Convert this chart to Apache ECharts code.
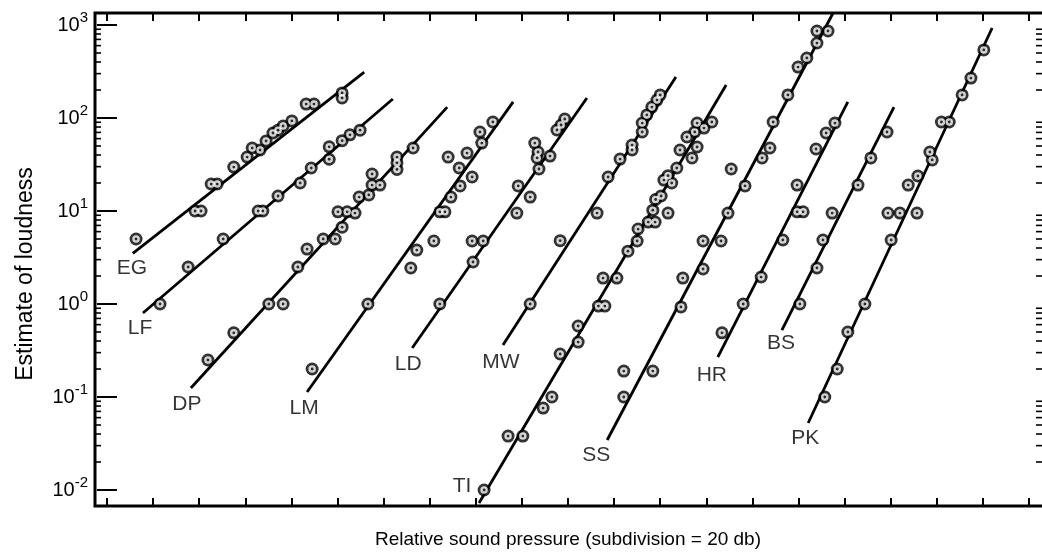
<!DOCTYPE html>
<html>
<head>
<meta charset="utf-8">
<title>Estimate of loudness</title>
<script src="https://cdn.jsdelivr.net/npm/echarts@6/dist/echarts.min.js"></script>
<style>
	html, body { margin: 0; padding: 0; background: #fff; }
	#chart { width: 1042px; height: 554px; }
</style>
</head>
<body>
<div id="chart"></div>
<script>
	// x: relative sound pressure in subdivisions (20 db each), y: estimate of loudness
	const EG_fit = [[0.56, 3.5], [5.58, 312]]
	const EG_pts = [[0.63, 5.0], [1.91, 10], [2.04, 10], [2.26, 19.5], [2.39, 19.5], [2.75, 29.7], [3.04, 38], [3.15, 47.6],
		[3.32, 45.3], [3.45, 56.6], [3.60, 69], [3.71, 74], [3.82, 82], [4.01, 93], [4.32, 141], [4.49, 141], [5.10, 186], [5.10, 164]]

	const LF_fit = [[0.78, 0.80], [6.20, 160]]
	const LF_pts = [[1.15, 1.0], [1.76, 2.5], [2.52, 5.0], [3.28, 10], [3.38, 10], [3.71, 14.5], [4.19, 20], [4.43, 29],
		[4.82, 36], [4.82, 49], [5.10, 57], [5.27, 66], [5.49, 74]]

	const DP_fit = [[1.82, 0.125], [7.38, 131]]
	const DP_pts = [[2.19, 0.25], [2.75, 0.49], [3.51, 1.0], [3.82, 1.0], [4.14, 2.5], [4.34, 3.9], [4.69, 5.0], [4.95, 5.0],
		[5.10, 6.7], [5.01, 9.8], [5.21, 9.8], [5.38, 9.5], [5.47, 14.1], [5.68, 14.9], [5.75, 19], [5.92, 19], [5.75, 25],
		[6.29, 38], [6.29, 33], [6.29, 28], [6.64, 47.6]]

	const LM_fit = [[4.34, 0.113], [8.81, 149]]
	const LM_pts = [[4.45, 0.2], [5.66, 1.0], [6.59, 2.44], [6.72, 3.8], [7.09, 4.76], [7.22, 9.8], [7.33, 9.8], [7.46, 14.1],
		[7.66, 18.6], [7.92, 23.2], [7.64, 29], [7.40, 38], [7.81, 42], [8.13, 53.8], [8.09, 70.7], [8.37, 90.6]]

	const LD_fit = [[6.62, 0.336], [10.41, 164]]
	const LD_pts = [[7.22, 1.0], [7.94, 2.83], [7.92, 4.76], [8.16, 4.76], [8.89, 9.5], [9.18, 14.1], [8.92, 18.6], [9.37, 28.3],
		[9.61, 39], [9.33, 37.2], [9.35, 43.1], [9.28, 53.8], [9.76, 74.3], [9.85, 84.1], [9.93, 97.5]]

	const MW_fit = [[8.59, 0.362], [12.34, 276]]
	const MW_pts = [[9.18, 1.0], [9.83, 4.8], [10.63, 9.5], [10.87, 23.2], [11.13, 36.2], [11.39, 51.2], [11.39, 45.3],
		[11.61, 70.7], [11.61, 88.3], [11.71, 108], [11.82, 131], [11.93, 156], [12.0, 177]]

	const TI_fit = [[8.07, 0.00725], [13.43, 226]]
	const TI_pts = [[8.18, 0.01], [8.70, 0.038], [9.02, 0.038], [9.46, 0.076], [9.65, 0.1], [9.83, 0.29], [10.22, 0.39],
		[10.22, 0.58], [10.66, 0.95], [10.80, 0.95], [10.76, 1.9], [11.06, 1.9], [11.30, 3.7], [11.50, 4.76], [11.52, 6.4],
		[11.74, 7.6], [11.89, 7.6], [11.84, 10.2], [12.17, 9.5], [11.90, 13.3], [12.02, 14.5], [12.08, 21.5], [12.25, 20],
		[12.17, 24], [12.36, 29], [12.43, 45.3], [12.69, 37.2], [12.58, 62.5], [12.80, 48.8], [12.75, 70.7], [12.80, 88.3],
		[13.12, 90.6], [12.95, 78]]

	const SS_fit = [[10.85, 0.0345], [15.75, 1346]]
	const SS_pts = [[11.21, 0.1], [11.21, 0.19], [11.84, 0.19], [12.45, 0.93], [12.49, 1.9], [12.93, 2.38], [12.93, 4.76],
		[13.32, 4.76], [13.47, 9.5], [13.54, 28.3], [13.84, 18.6], [14.21, 37.2], [14.38, 47.6], [14.45, 90.6], [14.77, 177],
		[14.99, 353], [15.18, 442], [15.40, 640], [15.40, 862], [15.64, 862]]

	const HR_fit = [[13.25, 0.269], [16.07, 149]]
	const HR_pts = [[13.34, 0.49], [13.80, 1.0], [14.19, 1.95], [14.66, 4.88], [14.97, 9.8], [15.10, 9.8], [14.97, 19],
		[15.38, 46.4], [15.60, 69], [15.79, 88.3]]

	const BS_fit = [[14.64, 0.525], [17.07, 131]]
	const BS_pts = [[15.03, 1.0], [15.40, 2.44], [15.53, 4.88], [15.73, 9.5], [16.29, 19], [16.57, 37.2], [16.92, 70.7]]

	const PK_fit = [[15.21, 0.0525], [19.20, 929]]
	const PK_pts = [[15.57, 0.1], [15.84, 0.2], [16.07, 0.5], [16.44, 1.0], [17.01, 4.88], [16.94, 9.5], [17.20, 9.5],
		[17.57, 9.5], [17.38, 19], [17.59, 23.8], [17.85, 43.1], [17.90, 35.4], [18.10, 90.6], [18.27, 90.6], [18.55, 177],
		[18.74, 269], [19.02, 539]]

	const subjects = ['EG', 'LF', 'DP', 'LM', 'LD', 'MW', 'TI', 'SS', 'HR', 'BS', 'PK']
	const fits = { EG: EG_fit, LF: LF_fit, DP: DP_fit, LM: LM_fit, LD: LD_fit, MW: MW_fit, TI: TI_fit, SS: SS_fit, HR: HR_fit, BS: BS_fit, PK: PK_fit }
	const points = { EG: EG_pts, LF: LF_pts, DP: DP_pts, LM: LM_pts, LD: LD_pts, MW: MW_pts, TI: TI_pts, SS: SS_pts, HR: HR_pts, BS: BS_pts, PK: PK_pts }

	// axis: 21 ticks along x, decades on y
	const xMin = 0
	const xMax = 20
	const yMin = 0.01
	const yMax = 1000
	const minorSteps = [2, 3, 4, 5, 6, 7, 8, 9]
	const decades = [0.01, 0.1, 1, 10, 100]

	// where each name sits relative to the low end of its line (px)
	const labelOffsets = {
		EG: [-1, 15], LF: [-3, 15], DP: [-4, 16], LM: [-3, 16], LD: [-4, 16], MW: [-2, 17],
		TI: [-17, -17], SS: [-11, 15], HR: [-6, 18], BS: [-1, 13], PK: [-3, 15]
	}

	const FONT = '"Liberation Sans", Arial, Helvetica, sans-serif'
	const LEFT_OFF = 12
	const RIGHT_OFF = 13

	const minorTicks = []
	decades.forEach(d => minorSteps.forEach(s => minorTicks.push([xMin, d * s])))

	const series = []
	subjects.forEach(name => {
		series.push({
			name: name,
			type: 'line',
			data: fits[name],
			symbol: 'none',
			clip: false,
			silent: true,
			lineStyle: { color: '#000', width: 2.8 },
			z: 2
		})
	})
	const allPts = subjects.reduce((acc, n) => acc.concat(points[n]), [])
	// ring = black disc, white disc on top, then centre dot
	series.push({ type: 'scatter', data: allPts, symbol: 'circle', symbolSize: 13, clip: false, silent: true, itemStyle: { color: '#000' }, z: 3 })
	series.push({ type: 'scatter', data: allPts, symbol: 'circle', symbolSize: 7.5, clip: false, silent: true, itemStyle: { color: '#fff' }, z: 4 })
	series.push({ type: 'scatter', data: allPts, symbol: 'circle', symbolSize: 2.8, clip: false, silent: true, itemStyle: { color: '#000' }, z: 5 })
	// subject names
	series.push({
		type: 'scatter',
		clip: false,
		silent: true,
		symbolSize: 1,
		itemStyle: { color: 'rgba(0,0,0,0)' },
		z: 6,
		data: subjects.map(n => ({
			name: n,
			value: fits[n][0],
			label: { offset: labelOffsets[n] }
		})),
		label: {
			show: true,
			position: 'inside',
			formatter: '{b}',
			color: '#000',
			fontSize: 21,
			fontFamily: FONT
		}
	})
	// minor log ticks on both y axes
	series.push({
		type: 'custom',
		clip: false,
		silent: true,
		data: minorTicks,
		z: 7,
		renderItem: (params, api) => {
			const p0 = api.coord([xMin, api.value(1)])
			const p1 = api.coord([xMax, api.value(1)])
			const xl = p0[0] - LEFT_OFF
			const xr = p1[0] + RIGHT_OFF
			return {
				type: 'group',
				children: [
					{ type: 'line', shape: { x1: xl, y1: p0[1], x2: xl + 6, y2: p0[1] }, style: { stroke: '#000', lineWidth: 1.6 } },
					{ type: 'line', shape: { x1: xr - 6, y1: p0[1], x2: xr, y2: p0[1] }, style: { stroke: '#000', lineWidth: 1.6 } }
				]
			}
		}
	})

	const xAxisBase = {
		type: 'value',
		min: xMin,
		max: xMax,
		interval: 1,
		axisLine: { show: false },
		axisTick: { show: true, inside: true, length: 8, lineStyle: { color: '#000', width: 2 } },
		axisLabel: { show: false },
		splitLine: { show: false }
	}
	const yAxisBase = {
		type: 'log',
		logBase: 10,
		min: yMin,
		max: yMax,
		splitNumber: 5,
		axisLine: { show: false },
		axisTick: { show: true, inside: true, length: 10, lineStyle: { color: '#000', width: 2 } },
		splitLine: { show: false },
		minorTick: { show: false }
	}

	const option = {
		animation: false,
		backgroundColor: '#fff',
		grid: { left: 107, right: 13, top: 25, bottom: 64, containLabel: false },
		xAxis: [
			Object.assign({}, xAxisBase, {
				position: 'bottom',
				offset: 16,
				name: 'Relative sound pressure (subdivision = 20 db)',
				nameLocation: 'middle',
				nameGap: 24,
				nameTextStyle: { color: '#000', fontSize: 19, fontFamily: FONT }
			}),
			Object.assign({}, xAxisBase, { position: 'top', offset: 12 })
		],
		yAxis: [
			Object.assign({}, yAxisBase, {
				position: 'left',
				offset: LEFT_OFF,
				name: 'Estimate of loudness',
				nameLocation: 'middle',
				nameGap: 58,
				nameTextStyle: { color: '#000', fontSize: 23, fontFamily: FONT, padding: [0, 33, 0, 0] },
				axisLabel: {
					show: true,
					margin: 7,
					formatter: v => '{b|10}{s|' + Math.round(Math.log10(v)) + '}',
					rich: {
						b: { fontSize: 20, lineHeight: 30, verticalAlign: 'middle', color: '#000', fontFamily: FONT },
						s: { fontSize: 15, lineHeight: 16, verticalAlign: 'top', color: '#000', fontFamily: FONT }
					}
				}
			}),
			Object.assign({}, yAxisBase, { position: 'right', offset: RIGHT_OFF, axisLabel: { show: false } })
		],
		graphic: [{
			type: 'rect',
			silent: true,
			z: 100,
			shape: { x: 95, y: 13, width: 949, height: 493 },
			style: { fill: 'none', stroke: '#000', lineWidth: 3 }
		}],
		series: series
	}

	const chart = echarts.init(document.getElementById('chart'), null, { renderer: 'canvas' })
	chart.setOption(option)
	window.onresize = () => {
		chart.resize()
	}
</script>
</body>
</html>
